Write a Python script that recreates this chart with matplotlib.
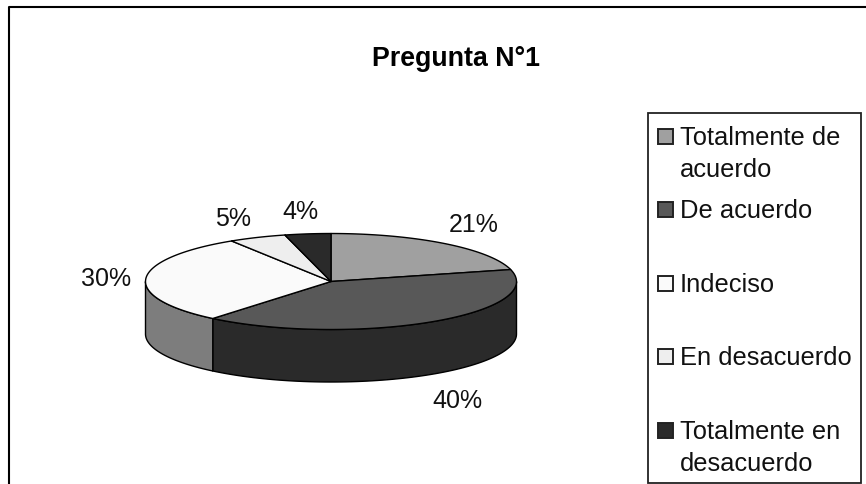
import numpy as np
import matplotlib
matplotlib.use('Agg')
from matplotlib import pyplot as plt
from matplotlib.patches import Polygon, Rectangle

plt.rcParams['font.family'] = ['Liberation Sans', 'DejaVu Sans']

title = 'Pregunta N°1'
categories = ['Totalmente de\nacuerdo', 'De acuerdo', 'Indeciso', 'En desacuerdo', 'Totalmente en\ndesacuerdo']
values = [21, 40, 30, 5, 4]
colors = ['#a0a0a0', '#585858', '#fafafa', '#eeeeee', '#2a2a2a']
side_colors = ['#505050', '#2a2a2a', '#7d7d7d', '#777777', '#151515']

# pie geometry, in pixels of the image
cx, cy = 331, 282.5
rx, ry = 185.5, 48
depth = 52.5
label_pos = [(474, 225), (457, 401), (106, 279), (233, 219), (300, 212)]
legend_y = [137, 210, 284, 357, 431]


def rim(a0, a1, n=80):
    # angles clockwise from the top of the pie, in degrees
    t = np.radians(np.linspace(a0, a1, n))
    return cx + rx * np.sin(t), cy - ry * np.cos(t)


fig = plt.figure(figsize=(8.66, 4.85), dpi=100)
ax = fig.add_axes([0, 0, 1, 1])
ax.set_xlim(0, 866)
ax.set_ylim(485, 0)
ax.axis('off')

# chart border is cut off by the image on the right and at the bottom
ax.plot([8.5, 8.5, 870], [490, 8, 8], color='black', lw=1.5)
ax.text(456, 59.5, title, fontsize=19.3, fontweight='bold', ha='center', va='center')

ends = np.cumsum(values) / sum(values) * 360
starts = np.concatenate([[0], ends[:-1]])

# side wall, only the part facing the viewer
for a0, a1, c in zip(starts, ends, side_colors):
    lo, hi = max(a0, 90), min(a1, 270)
    if lo >= hi:
        continue
    x, y = rim(lo, hi)
    pts = np.r_[np.c_[x, y], np.c_[x, y + depth][::-1]]
    ax.add_patch(Polygon(pts, fc=c, ec='black', lw=1))

# top face
for a0, a1, c in zip(starts, ends, colors):
    x, y = rim(a0, a1)
    pts = np.r_[[[cx, cy]], np.c_[x, y]]
    ax.add_patch(Polygon(pts, fc=c, ec='black', lw=1, joinstyle='round'))

for v, (x, y) in zip(values, label_pos):
    ax.text(x, y, f'{v}%', fontsize=18, ha='center', va='center', color='#111111')

ax.add_patch(Rectangle((647.5, 113.5), 213, 370, fc='white', ec='#222222', lw=1.3))
for lab, c, y in zip(categories, colors, legend_y):
    ax.add_patch(Rectangle((658, y - 7.5), 15, 15, fc=c, ec='#222222', lw=1.4))
    for i, line in enumerate(lab.split('\n')):
        ax.text(680, y + 8 + i * 32, line, fontsize=18.4, ha='left', va='baseline', color='#111111')

fig.savefig('out.png', dpi=100)
